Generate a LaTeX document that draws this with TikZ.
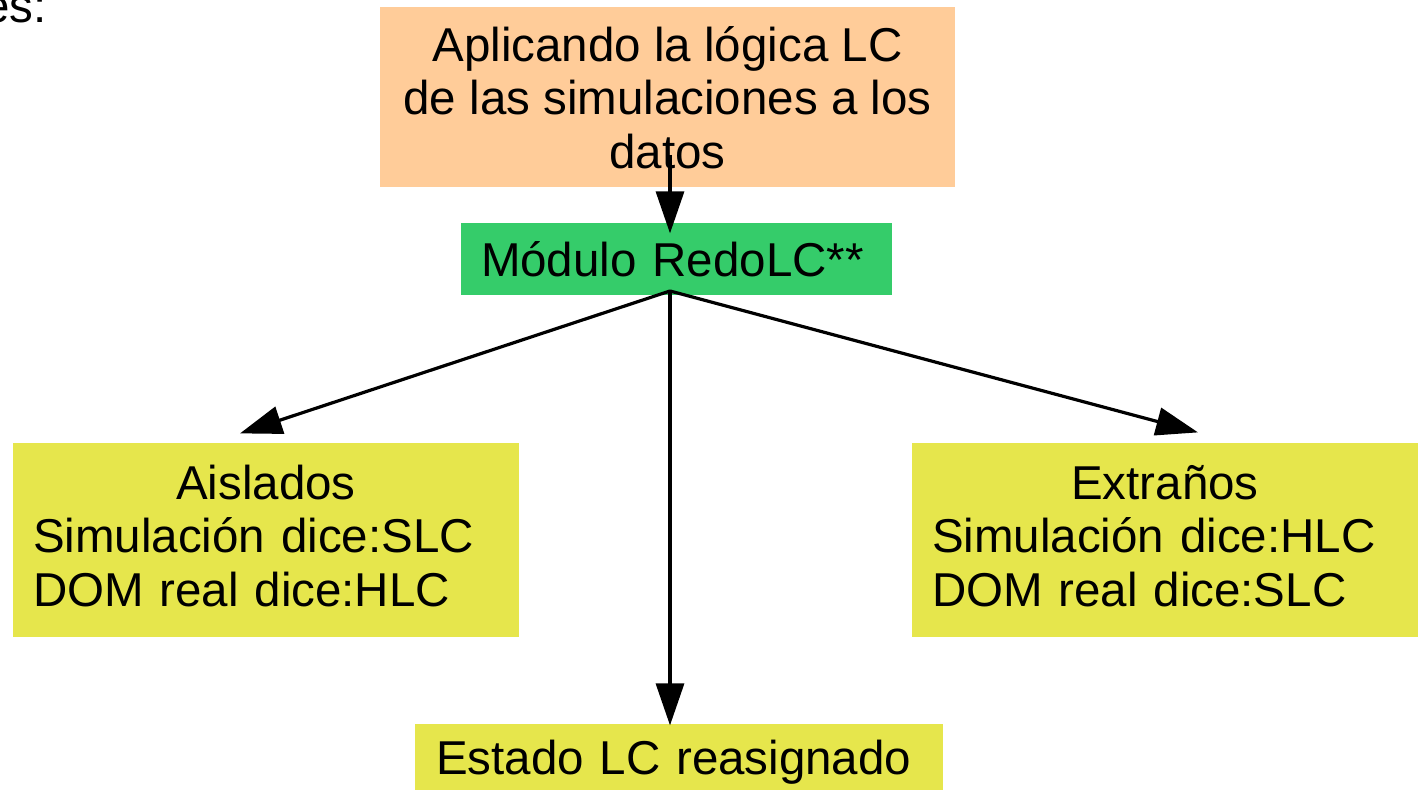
\documentclass[tikz,border=0pt]{standalone}
\usepackage{fontspec}
\setmainfont{Liberation Sans}
\usetikzlibrary{arrows.meta}
\definecolor{naranja}{RGB}{255,204,153}
\definecolor{verde}{RGB}{53,204,106}
\definecolor{amarillo}{RGB}{230,230,76}
\def\anchotexto{233pt}

\begin{document}
\begin{tikzpicture} [
    x=0.5pt, y=-0.5pt, line width=1.6pt,
    >={Triangle[length=21pt, width=14pt]},
    every node/.append style={font=\fontsize{23.75}{26.8}\selectfont, inner sep=0pt},
    caja/.style={fill=#1, draw=none},
    flecha/.style={->, draw=black}
  ]
  \useasboundingbox (0,0) rectangle (1418,790);
  \clip (0,0) rectangle (1418,790);

  \node [anchor=base east] (frag) at (48,23) {es:};

  \node [caja=naranja, align=center, minimum width=287.5pt, minimum height=90pt]
    (logica) at (667.5,97.5) {Aplicando la lógica LC\\de las simulaciones a los\\datos};
  \node [caja=verde, align=left, text width=195.5pt, minimum width=215.5pt, minimum height=36pt]
    (redo) at (676.5,259) {Módulo RedoLC**};

  \begin{scope} [every node/.append style={caja=amarillo, align=left, text width=\anchotexto,
      minimum width=253pt, minimum height=97pt}]
    \node (aislados) at (266,540)
      {\makebox[\anchotexto]{Aislados}\\Simulación dice:SLC\\DOM real dice:HLC\vspace{4pt}};
    \node (extranos) at (1165,540)
      {\makebox[\anchotexto]{Extraños}\\Simulación dice:HLC\\DOM real dice:SLC\vspace{4pt}};
  \end{scope}
  \node [caja=amarillo, align=left, text width=243pt, minimum width=264pt, minimum height=38pt]
    (estado) at (679,762) {Estado LC reasignado};

  \coordinate (src) at (670,155);
  \coordinate (hub) at (670,291);
  \draw [flecha, shorten >=-6pt] (src) -- (src |- redo.north);
  \draw [flecha] (hub) -- ([xshift=-13pt, yshift=4pt]aislados.north);
  \draw [flecha] (hub) -- ([xshift=16.5pt, yshift=4.5pt]extranos.north);
  \draw [flecha, shorten >=-1.5pt] (hub) -- (hub |- estado.north);
\end{tikzpicture}
\end{document}
